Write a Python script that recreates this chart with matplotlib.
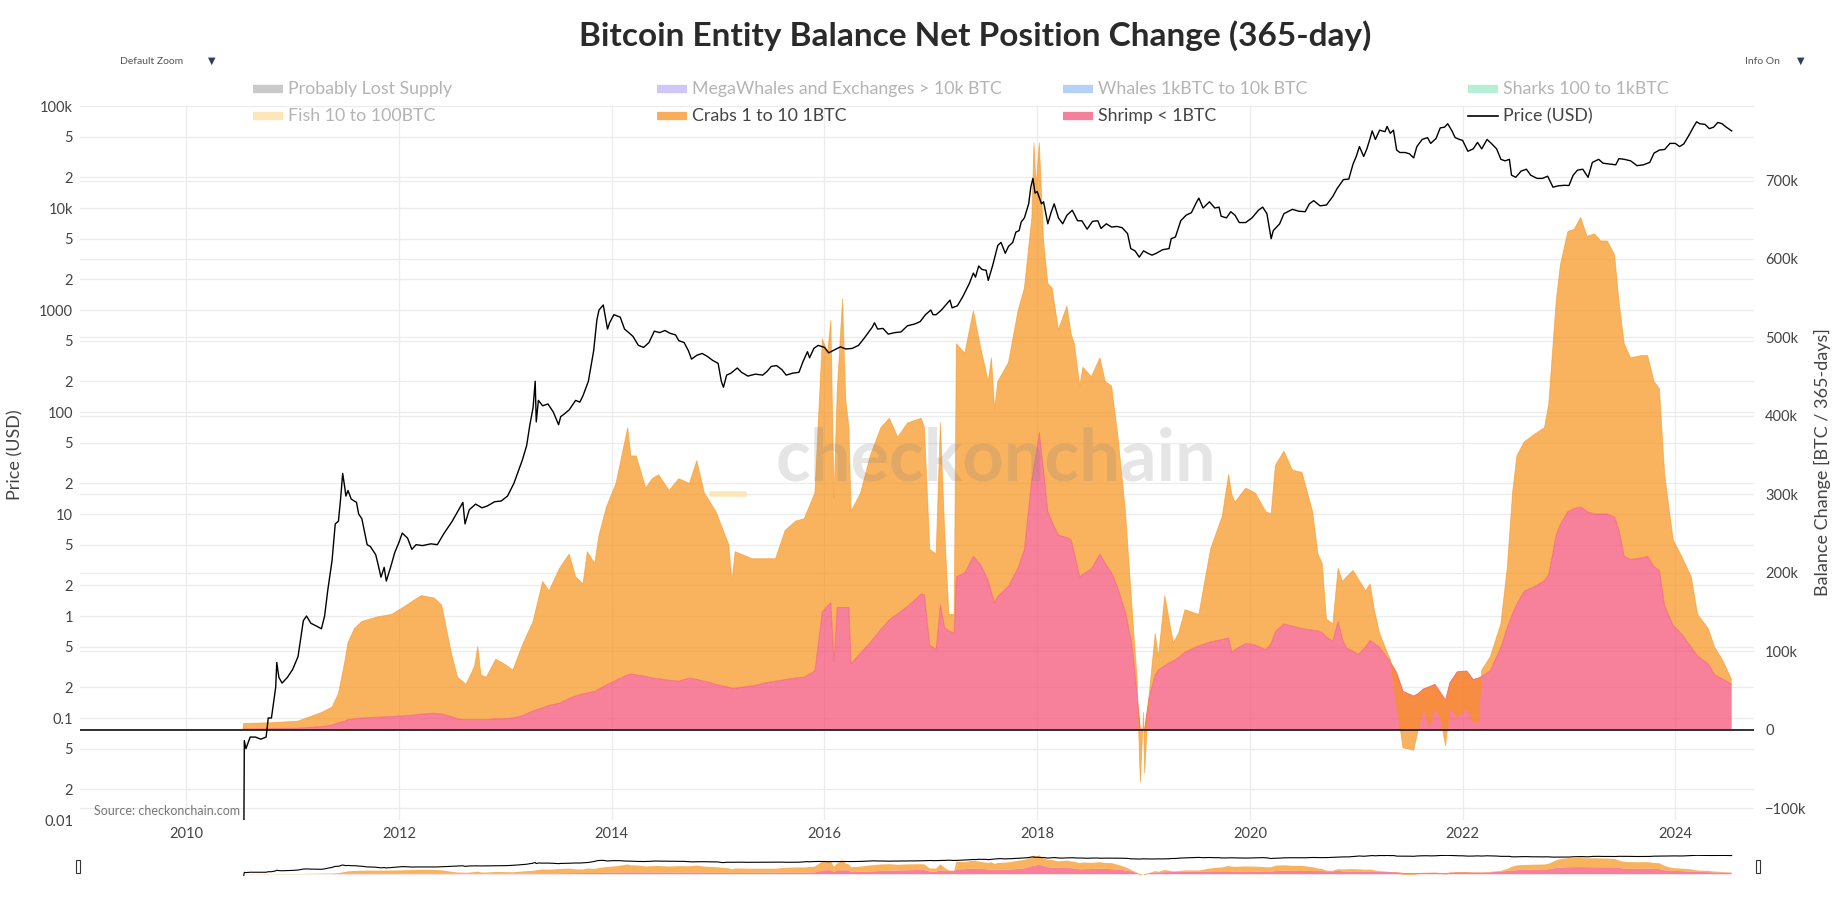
import numpy as np
import matplotlib
matplotlib.use("Agg")
import matplotlib.pyplot as plt
from matplotlib.lines import Line2D

plt.rcParams['font.family'] = ['Lato', 'DejaVu Sans']

# ---------------- data ----------------
price_years = [2010.54, 2010.545, 2010.56, 2010.6, 2010.65, 2010.7, 2010.75, 2010.77, 2010.8, 2010.84,
               2010.85, 2010.87, 2010.9, 2010.95, 2011.0, 2011.05, 2011.1, 2011.13, 2011.17, 2011.22,
               2011.27, 2011.3, 2011.33, 2011.37, 2011.4, 2011.43, 2011.45, 2011.47, 2011.49, 2011.5,
               2011.52, 2011.55, 2011.6, 2011.62, 2011.65, 2011.7, 2011.73, 2011.78, 2011.8, 2011.83,
               2011.86, 2011.88, 2011.92, 2011.96, 2012.0, 2012.03, 2012.08, 2012.12, 2012.16, 2012.22,
               2012.3, 2012.36, 2012.42, 2012.5, 2012.55, 2012.6, 2012.62, 2012.66, 2012.72, 2012.78,
               2012.83, 2012.9, 2012.96, 2013.02, 2013.08, 2013.12, 2013.16, 2013.2, 2013.23, 2013.26,
               2013.28, 2013.29, 2013.31, 2013.35, 2013.4, 2013.45, 2013.5, 2013.52, 2013.55, 2013.6,
               2013.66, 2013.7, 2013.73, 2013.78, 2013.83, 2013.86, 2013.88, 2013.92, 2013.94, 2013.96,
               2013.98, 2014.02, 2014.08, 2014.12, 2014.16, 2014.2, 2014.25, 2014.3, 2014.35, 2014.4,
               2014.45, 2014.5, 2014.55, 2014.6, 2014.63, 2014.68, 2014.72, 2014.75, 2014.8, 2014.85,
               2014.9, 2014.95, 2015.0, 2015.03, 2015.05, 2015.08, 2015.12, 2015.18, 2015.22, 2015.28,
               2015.35, 2015.42, 2015.46, 2015.5, 2015.55, 2015.6, 2015.64, 2015.7, 2015.76, 2015.8,
               2015.84, 2015.86, 2015.9, 2015.94, 2016.0, 2016.04, 2016.1, 2016.15, 2016.2, 2016.26,
               2016.32, 2016.38, 2016.45, 2016.47, 2016.5, 2016.55, 2016.6, 2016.66, 2016.72, 2016.78,
               2016.85, 2016.9, 2016.95, 2017.0, 2017.02, 2017.05, 2017.1, 2017.15, 2017.18, 2017.2,
               2017.25, 2017.3, 2017.36, 2017.4, 2017.42, 2017.45, 2017.48, 2017.52, 2017.54, 2017.58,
               2017.63, 2017.66, 2017.7, 2017.73, 2017.77, 2017.8, 2017.83, 2017.85, 2017.88, 2017.92,
               2017.94, 2017.96, 2017.98, 2018.0, 2018.04, 2018.06, 2018.1, 2018.13, 2018.16, 2018.2,
               2018.24, 2018.28, 2018.33, 2018.38, 2018.42, 2018.47, 2018.52, 2018.57, 2018.6, 2018.65,
               2018.7, 2018.75, 2018.8, 2018.85, 2018.88, 2018.92, 2018.96, 2019.0, 2019.04, 2019.08,
               2019.12, 2019.18, 2019.24, 2019.26, 2019.3, 2019.35, 2019.4, 2019.45, 2019.5, 2019.52,
               2019.56, 2019.62, 2019.67, 2019.71, 2019.73, 2019.78, 2019.82, 2019.86, 2019.9, 2019.96,
               2020.02, 2020.08, 2020.12, 2020.16, 2020.2, 2020.22, 2020.28, 2020.32, 2020.4, 2020.46,
               2020.52, 2020.56, 2020.6, 2020.66, 2020.72, 2020.78, 2020.82, 2020.88, 2020.93, 2020.97,
               2021.0, 2021.03, 2021.07, 2021.1, 2021.13, 2021.15, 2021.18, 2021.22, 2021.27, 2021.29,
               2021.32, 2021.35, 2021.38, 2021.41, 2021.46, 2021.5, 2021.54, 2021.57, 2021.62, 2021.67,
               2021.7, 2021.75, 2021.79, 2021.83, 2021.86, 2021.9, 2021.93, 2021.97, 2022.0, 2022.05,
               2022.1, 2022.14, 2022.18, 2022.23, 2022.27, 2022.32, 2022.36, 2022.4, 2022.44, 2022.46,
               2022.5, 2022.55, 2022.6, 2022.64, 2022.7, 2022.75, 2022.8, 2022.85, 2022.9, 2022.96,
               2023.0, 2023.04, 2023.08, 2023.13, 2023.18, 2023.22, 2023.28, 2023.32, 2023.38, 2023.44,
               2023.47, 2023.52, 2023.58, 2023.64, 2023.7, 2023.76, 2023.8, 2023.85, 2023.9, 2023.95,
               2024.0, 2024.04, 2024.08, 2024.13, 2024.17, 2024.2, 2024.23, 2024.28, 2024.32, 2024.36,
               2024.4, 2024.44, 2024.47, 2024.5, 2024.53]
price_usd = [0.005, 0.06, 0.05, 0.065, 0.065, 0.062, 0.065, 0.1, 0.1, 0.2,
             0.35, 0.25, 0.22, 0.25, 0.3, 0.4, 0.9, 1.0, 0.85, 0.8,
             0.75, 1.0, 1.8, 3.5, 8, 8.5, 14, 25, 18, 15,
             17, 14, 13, 10, 9, 5, 4.8, 4, 3.3, 2.4,
             3, 2.2, 3, 4.2, 5.3, 6.5, 5.8, 4.5, 5, 4.9,
             5.1, 5, 6.4, 8.5, 10.5, 13, 8, 11, 12.5, 11.5,
             12, 13.2, 13.4, 15, 20, 26, 34, 47, 75, 110,
             200, 80, 130, 115, 120, 100, 75, 90, 95, 105,
             130, 125, 145, 200, 400, 800, 1000, 1120, 850, 650,
             750, 900, 850, 650, 600, 550, 450, 430, 480, 620,
             600, 630, 590, 570, 500, 480, 400, 330, 360, 375,
             350, 320, 300, 200, 175, 230, 240, 270, 245, 225,
             235, 230, 250, 280, 285, 260, 230, 240, 245, 315,
             390, 340, 420, 450, 430, 380, 410, 435, 415, 420,
             450, 540, 680, 750, 650, 660, 580, 600, 610, 700,
             730, 770, 900, 1000, 900, 900, 1000, 1150, 1250, 1050,
             1100, 1350, 1800, 2300, 2100, 2700, 2500, 2450, 1950, 2700,
             4300, 4600, 3600, 4200, 4600, 5800, 6000, 7300, 8000, 11000,
             16000, 19500, 14000, 14500, 11000, 11500, 7000, 9000, 11000, 8000,
             7000, 8500, 9500, 7500, 7500, 6200, 7400, 7500, 6300, 7000,
             6500, 6600, 6400, 5600, 4000, 3800, 3300, 3800, 3600, 3450,
             3600, 3900, 4000, 5000, 5200, 7500, 8500, 9000, 11500, 12500,
             10000, 11500, 10000, 10200, 8300, 8000, 9200, 8500, 7200, 7200,
             8000, 9500, 10200, 8800, 5000, 6000, 7000, 8800, 9700, 9300,
             9200, 11000, 11800, 10500, 10700, 13000, 15500, 19000, 19200, 27000,
             32000, 40000, 32000, 38000, 48000, 57000, 47000, 58000, 56000, 63000,
             54000, 58000, 37000, 35000, 35000, 34000, 31000, 40000, 47000, 49000,
             43000, 48000, 61000, 62000, 67000, 57000, 49000, 47000, 46000, 36000,
             38000, 44000, 38000, 47000, 43000, 38000, 30000, 29000, 30000, 21000,
             20000, 23000, 24000, 21000, 19500, 19500, 20500, 16000, 16500, 16700,
             16600, 21000, 23500, 24000, 20000, 28000, 30000, 27500, 27000, 26500,
             30500, 30000, 29000, 26000, 26500, 28000, 34500, 37000, 37500, 43000,
             43000, 40000, 42500, 52000, 62000, 70000, 67000, 66000, 60000, 62000,
             69000, 67000, 63000, 60000, 57000]

bal_years = [2009.0, 2010.53, 2010.54, 2010.8, 2011.05, 2011.27, 2011.37, 2011.43, 2011.49, 2011.52,
             2011.58, 2011.65, 2011.8, 2011.93, 2012.05, 2012.15, 2012.21, 2012.33, 2012.4, 2012.49,
             2012.55, 2012.63, 2012.71, 2012.74, 2012.77, 2012.82, 2012.91, 2012.99, 2013.07, 2013.16,
             2013.26, 2013.35, 2013.41, 2013.51, 2013.6, 2013.66, 2013.73, 2013.77, 2013.84, 2013.88,
             2013.95, 2014.04, 2014.15, 2014.18, 2014.23, 2014.32, 2014.38, 2014.44, 2014.54, 2014.63,
             2014.73, 2014.8, 2014.87, 2014.98, 2015.1, 2015.13, 2015.16, 2015.32, 2015.45, 2015.54,
             2015.63, 2015.73, 2015.81, 2015.91, 2015.98, 2016.03, 2016.06, 2016.09, 2016.12, 2016.17,
             2016.2, 2016.23, 2016.25, 2016.34, 2016.43, 2016.53, 2016.61, 2016.69, 2016.78, 2016.91,
             2016.94, 2016.99, 2017.05, 2017.09, 2017.13, 2017.17, 2017.22, 2017.24, 2017.32, 2017.4,
             2017.47, 2017.54, 2017.57, 2017.6, 2017.63, 2017.73, 2017.82, 2017.88, 2017.95, 2017.97,
             2017.99, 2018.02, 2018.06, 2018.1, 2018.14, 2018.2, 2018.28, 2018.32, 2018.35, 2018.4,
             2018.43, 2018.51, 2018.59, 2018.64, 2018.7, 2018.76, 2018.83, 2018.89, 2018.94, 2018.97,
             2019.0, 2019.01, 2019.05, 2019.11, 2019.14, 2019.2, 2019.28, 2019.33, 2019.39, 2019.52,
             2019.63, 2019.74, 2019.8, 2019.83, 2019.86, 2019.96, 2020.05, 2020.15, 2020.2, 2020.24,
             2020.32, 2020.4, 2020.49, 2020.59, 2020.64, 2020.68, 2020.72, 2020.78, 2020.83, 2020.87,
             2020.91, 2020.97, 2021.02, 2021.09, 2021.13, 2021.17, 2021.22, 2021.29, 2021.32, 2021.38,
             2021.44, 2021.54, 2021.58, 2021.63, 2021.69, 2021.74, 2021.79, 2021.84, 2021.88, 2021.95,
             2022.04, 2022.1, 2022.15, 2022.18, 2022.26, 2022.36, 2022.42, 2022.47, 2022.51, 2022.58,
             2022.67, 2022.77, 2022.81, 2022.88, 2022.92, 2022.99, 2023.05, 2023.11, 2023.17, 2023.24,
             2023.3, 2023.36, 2023.43, 2023.47, 2023.52, 2023.58, 2023.68, 2023.74, 2023.8, 2023.85,
             2023.9, 2023.98, 2024.06, 2024.15, 2024.21, 2024.31, 2024.37, 2024.44, 2024.53]
# Shrimp < 1BTC, 365-day net change (thousand BTC)
shrimp_k = [0, 0, 1, 1.5, 2, 4, 6, 9, 11, 13,
            14, 15, 16, 17, 18, 19, 20, 21, 20, 17,
            14, 13, 13, 13, 13, 13, 14, 14, 15, 18,
            24, 28, 31, 34, 40, 43, 46, 47, 49, 52,
            57, 63, 70, 71, 70, 68, 66, 65, 63, 62,
            66, 64, 62, 58, 54, 53, 53, 56, 60, 62,
            64, 66, 67, 75, 150, 158, 162, 87, 156, 156,
            156, 156, 84, 98, 111, 128, 140, 148, 157, 173,
            172, 108, 102, 159, 130, 126, 123, 195, 200, 221,
            210, 190, 175, 162, 170, 183, 206, 230, 320, 335,
            350, 379, 330, 278, 265, 248, 245, 242, 225, 195,
            198, 205, 224, 212, 200, 180, 150, 110, 45, 1,
            1, 1, 40, 70, 76, 82, 88, 92, 99, 107,
            112, 115, 117, 99, 102, 110, 108, 102, 110, 125,
            135, 132, 129, 127, 126, 124, 118, 113, 138, 115,
            104, 100, 96, 106, 114, 110, 105, 92, 87, 73,
            49, 43, 46, 52, 55, 58, 48, 38, 60, 74,
            75, 64, 66, 68, 75, 105, 130, 148, 160, 177,
            182, 190, 198, 248, 262, 278, 282, 284, 278, 275,
            275, 275, 271, 255, 221, 217, 219, 221, 208, 203,
            158, 133, 122, 105, 94, 84, 70, 65, 58]
# top of the stacked Crabs 1 to 10 BTC area (shrimp + crabs, thousand BTC)
crabs_stack_top_k = [0, 0, 8, 9, 11, 22, 29, 46, 87, 111,
                     129, 138, 144, 147, 157, 166, 171, 168, 159, 99,
                     67, 58, 81, 106, 70, 67, 90, 84, 76, 108,
                     138, 189, 177, 206, 224, 195, 186, 227, 212, 248,
                     284, 314, 385, 349, 349, 308, 320, 325, 305, 320,
                     314, 343, 302, 278, 236, 189, 227, 218, 218, 218,
                     254, 266, 269, 302, 498, 480, 522, 296, 432, 549,
                     421, 385, 278, 302, 349, 385, 397, 373, 391, 397,
                     385, 230, 224, 391, 254, 147, 147, 492, 480, 534,
                     486, 444, 474, 409, 444, 468, 534, 563, 653, 748,
                     694, 748, 623, 569, 563, 510, 540, 504, 492, 438,
                     462, 450, 474, 444, 438, 373, 278, 159, 64, -67,
                     22, -55, 40, 123, 93, 171, 111, 123, 153, 147,
                     230, 272, 325, 300, 290, 308, 302, 278, 275, 337,
                     355, 331, 328, 278, 224, 212, 141, 135, 206, 189,
                     195, 203, 192, 177, 186, 153, 123, 99, 90, 34,
                     -23, -26, -2, 28, 4, 28, 16, -20, 28, 16,
                     28, 10, 10, 76, 93, 135, 206, 302, 349, 367,
                     376, 385, 415, 546, 593, 635, 638, 653, 629, 632,
                     623, 623, 605, 546, 492, 474, 477, 477, 444, 435,
                     325, 242, 221, 195, 147, 129, 105, 90, 64]

left_tick_values = [0.01, 0.02, 0.05, 0.1, 0.2, 0.5, 1, 2, 5, 10, 20, 50, 100, 200, 500,
                    1000, 2000, 5000, 10000, 20000, 50000, 100000]
left_tick_labels = ['0.01', '2', '5', '0.1', '2', '5', '1', '2', '5', '10', '2', '5', '100', '2', '5',
                    '1000', '2', '5', '10k', '2', '5', '100k']
right_tick_values = [-100, 0, 100, 200, 300, 400, 500, 600, 700]
right_tick_labels = ['\u2212100k', '0', '100k', '200k', '300k', '400k', '500k', '600k', '700k']
year_ticks = [2010, 2012, 2014, 2016, 2018, 2020, 2022, 2024]

legend_rows = [
    [("Probably Lost Supply", '#c9c9c9', False, 'patch'),
     ("MegaWhales and Exchanges > 10k BTC", '#cfc7f7', False, 'patch'),
     ("Whales 1kBTC to 10k BTC", '#b6d1f6', False, 'patch'),
     ("Sharks 100 to 1kBTC", '#b7eed6', False, 'patch')],
    [("Fish 10 to 100BTC", '#fde7b9', False, 'patch'),
     ("Crabs 1 to 10 1BTC", '#f7ad5a', True, 'patch'),
     ("Shrimp < 1BTC", '#f5809b', True, 'patch'),
     ("Price (USD)", '#000000', True, 'line')],
]

# ---------------- figure ----------------
W, H = 1836, 901
fig = plt.figure(figsize=(W / 100, H / 100), dpi=100)

def fx(px):
    return px / W

def fy(py):
    return 1 - py / H

L, R, T, B = 80, 1754, 106, 820
rect = [fx(L), fy(B), fx(R) - fx(L), fy(T) - fy(B)]
XMIN, XMAX = 2009.0, 2024.74

axg = fig.add_axes(rect)              # grid + left axis (price, log)
axb = fig.add_axes(rect, sharex=axg)  # balance areas, right axis
axp = fig.add_axes(rect, sharex=axg)  # price line on top

for a in (axg, axb, axp):
    for s in a.spines.values():
        s.set_visible(False)
axb.patch.set_visible(False)
axp.patch.set_visible(False)

grid_c = '#ececec'
axg.set_yscale('log')
axg.set_ylim(0.01, 100000)
axg.set_xlim(XMIN, XMAX)
axg.set_yticks(left_tick_values)
axg.set_yticklabels(left_tick_labels)
axg.yaxis.set_minor_locator(matplotlib.ticker.NullLocator())
axg.set_xticks(year_ticks)
axg.set_xticklabels([str(y) for y in year_ticks])
axg.tick_params(axis='both', length=0, labelsize=10.5, labelcolor='#444')
axg.tick_params(axis='y', pad=5)
axg.tick_params(axis='x', pad=5)
axg.grid(True, which='major', axis='both', color=grid_c, lw=0.9)
axg.set_axisbelow(True)
fig.text(fx(15), fy(455), 'Price (USD)', rotation=90, fontsize=13, color='#444',
         ha='center', va='center')

axb.set_ylim(-115, 795)
axb.yaxis.tick_right()
axb.set_yticks(right_tick_values)
axb.set_yticklabels(right_tick_labels)
axb.tick_params(axis='y', length=0, labelsize=10.5, labelcolor='#444', pad=8)
axb.tick_params(axis='x', bottom=False, labelbottom=False)
fig.text(fx(1822), fy(462), 'Balance Change [BTC / 365-days]', rotation=90, fontsize=13,
         color='#444', ha='center', va='center')
for v in right_tick_values:
    if v != 0:
        axb.axhline(v, color=grid_c, lw=0.9, zorder=0)

bx = np.array(bal_years)
shrimp = np.array(shrimp_k, dtype=float)
crabs = np.array(crabs_stack_top_k, dtype=float) - shrimp
crab_c = (247 / 255, 147 / 255, 26 / 255)
shrimp_c = (244 / 255, 74 / 255, 112 / 255)
axb.stackplot(bx, shrimp, crabs, colors=[shrimp_c, crab_c], alpha=0.7, lw=0, zorder=2)
axb.plot(bx, shrimp, color=shrimp_c, lw=0.6, alpha=0.6, zorder=3)
axb.plot(bx, shrimp + crabs, color=crab_c, lw=0.6, alpha=0.6, zorder=3)
axb.axhline(0, color='#222', lw=1.3, zorder=4)

axp.set_yscale('log')
axp.set_ylim(0.01, 100000)
axp.plot(price_years, price_usd, color='black', lw=1.0, zorder=5)
axp.set_yticks([])
axp.tick_params(axis='both', length=0, labelbottom=False, labelleft=False)
axp.yaxis.set_minor_locator(matplotlib.ticker.NullLocator())

# watermark
fig.text(fx(996), fy(460), 'checkonchain', fontsize=52, fontweight='bold', color='#808080', alpha=0.2,
         ha='center', va='center')
fig.add_artist(Line2D([fx(712), fx(744)], [fy(494), fy(494)], color='#fde7b9', lw=4))

# source
fig.text(fx(94), fy(811), 'Source: checkonchain.com', fontsize=9, color='#777', ha='left', va='center')

# title
fig.text(fx(975), fy(36), 'Bitcoin Entity Balance Net Position Change (365-day)', fontsize=24,
         fontweight='bold', color='#2a2a2a', ha='center', va='center')

# dropdown labels
fig.text(fx(120), fy(61), 'Default Zoom', fontsize=7.5, color='#555', ha='left', va='center')
fig.text(fx(212), fy(61), '\u25bc', fontsize=7, color='#2a3f5f', ha='center', va='center', family='DejaVu Sans')
fig.text(fx(1745), fy(61), 'Info On', fontsize=7.5, color='#555', ha='left', va='center')
fig.text(fx(1801), fy(61), '\u25bc', fontsize=7, color='#2a3f5f', ha='center', va='center', family='DejaVu Sans')

# legend
col_sw = [253, 657, 1063, 1468]
row_y = [89, 116]
for r, row in enumerate(legend_rows):
    for c, (label, color, active, kind) in enumerate(row):
        x0 = col_sw[c]
        y0 = row_y[r]
        if kind == 'patch':
            fig.add_artist(Line2D([fx(x0), fx(x0 + 30)], [fy(y0), fy(y0)], color=color, lw=6,
                                  solid_capstyle='butt'))
        else:
            fig.add_artist(Line2D([fx(x0), fx(x0 + 30)], [fy(y0), fy(y0)], color=color, lw=1.2))
        fig.text(fx(x0 + 35), fy(y0), label, fontsize=12.8, color='#444' if active else '#b4b4b4',
                 ha='left', va='center')

# range slider
SB, ST = 876, 855
srect = [fx(L), fy(SB), fx(R) - fx(L), fy(ST) - fy(SB)]
sb = fig.add_axes(srect)
sp = fig.add_axes(srect, sharex=sb)
for a in (sb, sp):
    for s in a.spines.values():
        s.set_visible(False)
    a.set_xticks([])
    a.set_yticks([])
sp.patch.set_visible(False)
sb.set_xlim(XMIN, XMAX)
sb.set_ylim(-70, 760)
sb.stackplot(bx, shrimp, crabs, colors=[shrimp_c, crab_c], alpha=0.7, lw=0)
sp.set_yscale('log')
sp.set_ylim(0.003, 90000)
sp.plot(price_years, price_usd, color='black', lw=0.8)
sp.yaxis.set_minor_locator(matplotlib.ticker.NullLocator())
sp.set_yticks([])
for hx in (78, 1758):
    fig.add_artist(matplotlib.patches.Rectangle((fx(hx - 2), fy(873)), fx(4), fy(860) - fy(873),
                                                 facecolor='white', edgecolor='#333', lw=0.8))

fig.savefig('out.png', dpi=100)
